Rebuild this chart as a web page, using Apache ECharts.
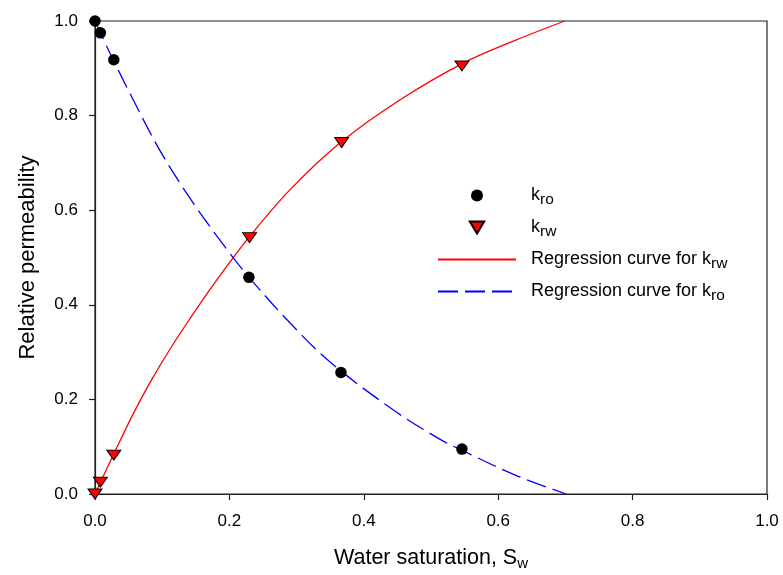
<!DOCTYPE html>
<html>
<head>
<meta charset="utf-8">
<script src="https://cdn.jsdelivr.net/npm/echarts@6/dist/echarts.min.js"></script>
<style>html,body{margin:0;padding:0;background:#fff}#c{width:783px;height:575px}</style>
</head>
<body>
<div id="c"></div>
<script>
// Measured data points
var kroPoints = [[0.0,1.0],[0.008,0.975],[0.028,0.918],[0.229,0.458],[0.366,0.257],[0.546,0.095]];
var krwPoints = [[0.0,0.0],[0.008,0.025],[0.028,0.082],[0.230,0.542],[0.367,0.743],[0.546,0.905]];
// Regression curves
var krwCurve = [[0,0],[0.0297,0.090],[0.057,0.170],[0.082,0.236],[0.1115,0.306],[0.141,0.370],[0.181,0.452],[0.2305,0.545],[0.29,0.643],[0.367,0.745],[0.4535,0.833],[0.548,0.911],[0.627,0.960],[0.699,1.0]];
var kroCurve = [[0,1.0],[0.0223,0.932],[0.057,0.833],[0.0967,0.726],[0.141,0.626],[0.191,0.527],[0.2305,0.456],[0.29,0.362],[0.349,0.280],[0.4436,0.178],[0.513,0.116],[0.548,0.091],[0.627,0.039],[0.701,0.0]];
var xTicks = [0,0.2,0.4,0.6,0.8,1.0];
var yTicks = [0,0.2,0.4,0.6,0.8,1.0];

var FONT = 'Liberation Sans, Arial, Helvetica, sans-serif';
var tri = 'path://M0,0 L12,0 L6,10 Z';
var legendNames = {
  kro: '{n|k}{s|ro}',
  krw: '{n|k}{s|rw}',
  rw: '{n|Regression curve for k}{s|rw}',
  ro: '{n|Regression curve for k}{s|ro}'
};
var richSub = {
  n: {fontSize: 18, fontFamily: FONT, color: '#000', lineHeight: 22},
  s: {fontSize: 15.5, fontFamily: FONT, color: '#000', lineHeight: 22, padding: [9, 0, 0, 0]}
};

var chart = echarts.init(document.getElementById('c'));
chart.setOption({
  animation: false,
  backgroundColor: '#fff',
  grid: {left: 95, right: 16, top: 21, bottom: 81, containLabel: false, outerBoundsMode: 'none',
         show: true, borderColor: '#222', borderWidth: 1.2, backgroundColor: 'transparent'},
  legend: {
    orient: 'vertical', left: 432, top: 178, itemWidth: 78, itemHeight: 12, itemGap: 7,
    data: [
      {name: 'kro', icon: 'circle'},
      {name: 'krw', icon: tri},
      {name: 'rw', itemStyle: {opacity: 0, color: 'rgba(0,0,0,0)', borderColor: 'rgba(0,0,0,0)'}},
      {name: 'ro', itemStyle: {opacity: 0, color: 'rgba(0,0,0,0)', borderColor: 'rgba(0,0,0,0)'}}
    ],
    formatter: function (name) { return legendNames[name]; },
    textStyle: {padding: [0, 0, 0, 10], rich: richSub}
  },
  xAxis: {
    type: 'value', min: 0, max: 1, interval: 0.2,
    name: '{n|Water saturation, S}{s|w}', nameLocation: 'middle', nameGap: 50,
    nameTextStyle: {rich: {
      n: {fontSize: 21.5, fontFamily: FONT, color: '#000', lineHeight: 28},
      s: {fontSize: 15, fontFamily: FONT, color: '#000', lineHeight: 28, padding: [12, 0, 0, 0]}
    }},
    axisLine: {lineStyle: {color: '#222', width: 1.2}},
    axisTick: {show: true, length: 6, inside: false, lineStyle: {color: '#222', width: 1.2}},
    axisLabel: {margin: 19, fontSize: 17, fontFamily: FONT, color: '#000',
                formatter: function (v) { return v.toFixed(1); }},
    splitLine: {show: false}
  },
  yAxis: {
    type: 'value', min: 0, max: 1, interval: 0.2,
    name: 'Relative permeability', nameLocation: 'middle', nameGap: 56,
    nameTextStyle: {fontSize: 22, fontFamily: FONT, color: '#000'},
    axisLine: {lineStyle: {color: '#222', width: 1.2}},
    axisTick: {show: true, length: 6, inside: false, lineStyle: {color: '#222', width: 1.2}},
    axisLabel: {margin: 17, fontSize: 17, fontFamily: FONT, color: '#000',
                formatter: function (v) { return v.toFixed(1); }},
    splitLine: {show: false}
  },
  series: [
    {name: 'rw', type: 'line', data: krwCurve, smooth: 0.35, symbol: 'none', clip: true,
     lineStyle: {color: '#ff0000', width: 1.3}, itemStyle: {color: '#ff0000'}, z: 2},
    {name: 'ro', type: 'line', data: kroCurve, smooth: 0.35, symbol: 'none', clip: true,
     lineStyle: {color: '#0000ff', width: 1.3, type: [20, 7]}, itemStyle: {color: '#0000ff'}, z: 2},
    {name: 'kro', type: 'scatter', data: kroPoints, symbol: 'circle', symbolSize: 11.5, clip: false,
     itemStyle: {color: '#000', borderColor: '#000', borderWidth: 0, opacity: 1}, z: 3},
    {name: 'krw', type: 'scatter', data: krwPoints, symbol: tri, symbolSize: [14, 12], symbolKeepAspect: true, clip: false,
     itemStyle: {color: '#ff0000', borderColor: '#000', borderWidth: 1, opacity: 1}, z: 4}
  ]
});
</script>
</body>
</html>
